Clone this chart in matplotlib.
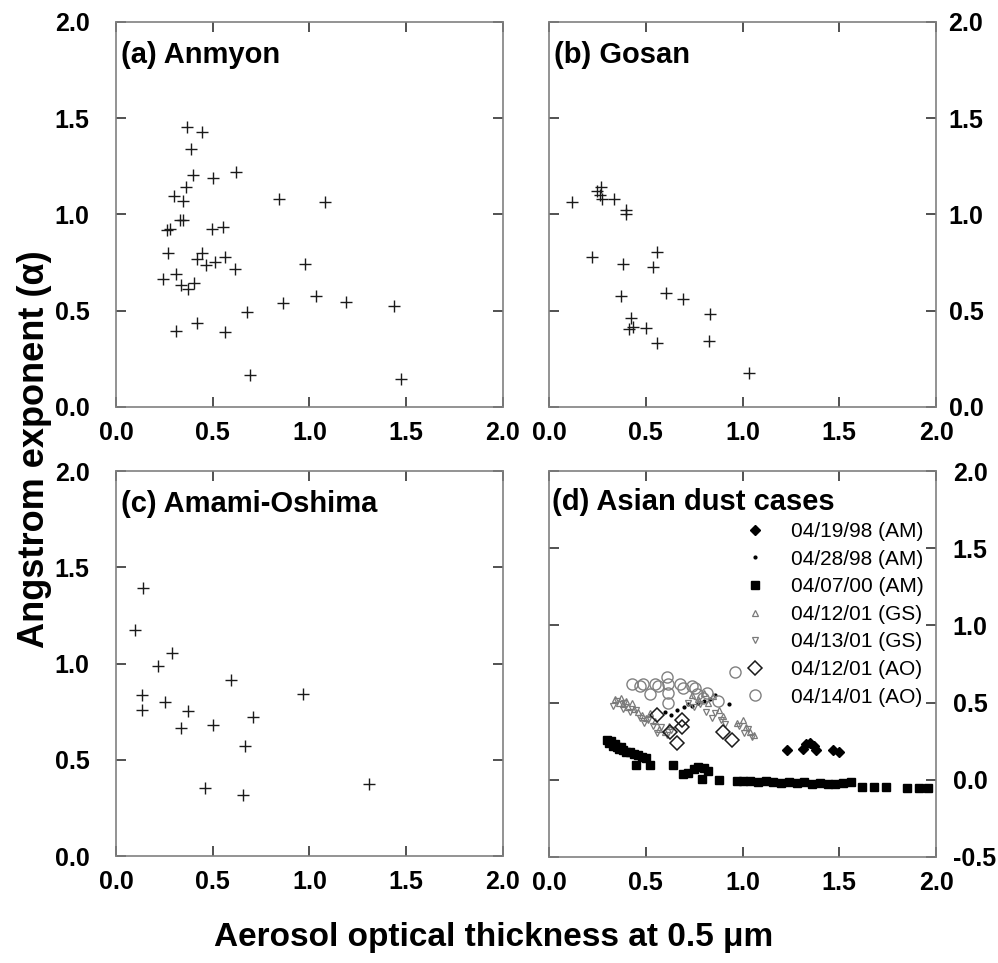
import matplotlib
matplotlib.use('Agg')
import matplotlib.pyplot as plt

plt.rcParams['font.family'] = ['Liberation Sans', 'DejaVu Sans']
plt.rcParams['axes.unicode_minus'] = False

# (a) Anmyon
aot_a = [0.368, 0.444, 0.386, 0.396, 0.499, 0.620, 0.360, 0.298, 0.346, 0.840,
         1.079, 0.330, 0.348, 0.263, 0.277, 0.497, 0.552, 0.267, 0.444, 0.420,
         0.465, 0.513, 0.561, 0.616, 0.979, 0.241, 0.308, 0.337, 0.372, 0.404,
         1.034, 0.862, 1.188, 1.436, 0.678, 0.417, 0.310, 0.566, 0.692, 1.473]
alpha_a = [1.453, 1.430, 1.340, 1.205, 1.190, 1.221, 1.141, 1.094, 1.072, 1.081,
           1.065, 0.973, 0.973, 0.919, 0.923, 0.926, 0.933, 0.802, 0.802, 0.771,
           0.738, 0.755, 0.781, 0.719, 0.743, 0.667, 0.693, 0.634, 0.611, 0.646,
           0.578, 0.539, 0.547, 0.525, 0.494, 0.435, 0.395, 0.391, 0.165, 0.145]

# (b) Gosan
aot_b = [0.269, 0.250, 0.264, 0.274, 0.336, 0.121, 0.397, 0.398, 0.224, 0.560,
         0.381, 0.540, 0.372, 0.607, 0.695, 0.833, 0.424, 0.436, 0.412, 0.500,
         0.560, 0.826, 1.034]
alpha_b = [1.145, 1.120, 1.103, 1.081, 1.081, 1.063, 1.022, 1.000, 0.779, 0.807,
           0.745, 0.726, 0.578, 0.594, 0.561, 0.485, 0.462, 0.417, 0.405, 0.410,
           0.331, 0.343, 0.177]

# (c) Amami-Oshima
aot_c = [0.138, 0.096, 0.291, 0.219, 0.592, 0.134, 0.966, 0.255, 0.134, 0.370,
         0.706, 0.337, 0.503, 0.668, 0.461, 0.659, 1.310]
alpha_c = [1.394, 1.173, 1.052, 0.988, 0.913, 0.839, 0.843, 0.799, 0.759, 0.753,
           0.720, 0.664, 0.682, 0.573, 0.353, 0.315, 0.374]

# (d) Asian dust cases
aot_041998 = [1.23, 1.31, 1.33, 1.35, 1.37, 1.38, 1.47, 1.50]
alpha_041998 = [0.19, 0.20, 0.23, 0.24, 0.22, 0.19, 0.19, 0.18]

aot_042898 = [0.60, 0.63, 0.66, 0.70, 0.72, 0.74, 0.77, 0.80, 0.83, 0.86, 0.93]
alpha_042898 = [0.44, 0.42, 0.45, 0.47, 0.49, 0.48, 0.50, 0.51, 0.52, 0.55, 0.49]

aot_040700 = [0.30, 0.31, 0.32, 0.33, 0.34, 0.35, 0.36, 0.37, 0.38, 0.40, 0.42, 0.44,
              0.46, 0.48, 0.50, 0.45, 0.52, 0.64, 0.69, 0.72, 0.75, 0.77, 0.80, 0.82,
              0.79, 0.88, 0.97, 1.00, 1.04, 1.08, 1.12, 1.16, 1.20, 1.24, 1.28, 1.32,
              1.36, 1.40, 1.44, 1.48, 1.52, 1.56, 1.62, 1.68, 1.74, 1.85, 1.91, 1.96]
alpha_040700 = [0.26, 0.24, 0.25, 0.22, 0.23, 0.21, 0.20, 0.21, 0.19, 0.18, 0.18, 0.17,
                0.16, 0.15, 0.14, 0.095, 0.095, 0.095, 0.04, 0.045, 0.07, 0.08, 0.075, 0.06,
                0.005, 0.0, -0.005, -0.005, -0.01, -0.012, -0.01, -0.015, -0.02, -0.012, -0.02, -0.015,
                -0.025, -0.02, -0.03, -0.028, -0.02, -0.015, -0.05, -0.05, -0.05, -0.055, -0.056, -0.056]

aot_041201_gs = [0.34, 0.36, 0.37, 0.38, 0.40, 0.41, 0.43, 0.44, 0.46, 0.48, 0.50, 0.52, 0.55, 0.57,
                 0.60, 0.62, 0.74, 0.77, 0.80, 0.82, 0.85, 0.88, 0.90, 0.97, 1.00, 1.02, 1.04, 1.06]
alpha_041201_gs = [0.52, 0.50, 0.53, 0.49, 0.51, 0.47, 0.50, 0.46, 0.44, 0.42, 0.40, 0.43, 0.38, 0.33,
                   0.31, 0.35, 0.55, 0.52, 0.56, 0.50, 0.54, 0.45, 0.41, 0.37, 0.39, 0.34, 0.31, 0.29]

aot_041301_gs = [0.33, 0.35, 0.38, 0.39, 0.42, 0.45, 0.47, 0.49, 0.51, 0.54, 0.56, 0.58, 0.61,
                 0.63, 0.72, 0.75, 0.78, 0.81, 0.84, 0.86, 0.89, 0.91, 0.98, 1.01, 1.03, 1.05]
alpha_041301_gs = [0.48, 0.51, 0.46, 0.50, 0.44, 0.45, 0.40, 0.37, 0.39, 0.35, 0.30, 0.34, 0.29,
                   0.32, 0.50, 0.47, 0.49, 0.44, 0.40, 0.43, 0.39, 0.36, 0.35, 0.30, 0.33, 0.28]

aot_041201_ao = [0.56, 0.625, 0.66, 0.686, 0.686, 0.90, 0.946]
alpha_041201_ao = [0.42, 0.31, 0.24, 0.39, 0.34, 0.31, 0.26]

aot_041401_ao = [0.427, 0.470, 0.488, 0.522, 0.548, 0.565, 0.608, 0.617, 0.617, 0.617,
                 0.677, 0.694, 0.737, 0.754, 0.763, 0.798, 0.815, 0.875, 0.961]
alpha_041401_ao = [0.619, 0.608, 0.619, 0.558, 0.619, 0.608, 0.666, 0.619, 0.565, 0.500,
                   0.619, 0.597, 0.608, 0.597, 0.554, 0.532, 0.565, 0.511, 0.700]

ticks_main = [0.0, 0.5, 1.0, 1.5, 2.0]
ticks_d = [-0.5, 0.0, 0.5, 1.0, 1.5, 2.0]


def style_axes(ax, right_labels=False, ypad=19):
    for sp in ax.spines.values():
        sp.set_color('#808080')
        sp.set_linewidth(1.2)
    ax.tick_params(direction='in', length=7, width=1.1, color='#222222',
                   top=True, right=True, labelsize=18, pad=10)
    ax.tick_params(axis='y', pad=ypad,
                   labelleft=not right_labels, labelright=right_labels)
    for lab in ax.get_xticklabels() + ax.get_yticklabels():
        lab.set_fontweight('bold')


fig = plt.figure(figsize=(9.98, 9.63), dpi=100)
ax_a = fig.add_axes([0.1162, 0.5774, 0.3878, 0.3998])
ax_b = fig.add_axes([0.5501, 0.5774, 0.3878, 0.3998])
ax_c = fig.add_axes([0.1162, 0.1111, 0.3878, 0.3998])
ax_d = fig.add_axes([0.5501, 0.1101, 0.3878, 0.4008])

panels = [(ax_a, aot_a, alpha_a, '(a) Anmyon'),
          (ax_b, aot_b, alpha_b, '(b) Gosan'),
          (ax_c, aot_c, alpha_c, '(c) Amami-Oshima')]
for ax, xs, ys, title in panels:
    ax.plot(xs, ys, linestyle='none', marker='+', markersize=9,
            markeredgewidth=1.0, color='#1a1a1a')
    ax.set_xlim(0, 2)
    ax.set_ylim(0, 2)
    ax.set_xticks(ticks_main)
    ax.set_yticks(ticks_main)
    ax.set_xticklabels(['%.1f' % t for t in ticks_main])
    ax.set_yticklabels(['%.1f' % t for t in ticks_main])
    ax.text(0.013, 0.894, title, transform=ax.transAxes, fontsize=21,
            fontweight='bold', va='baseline', ha='left')

style_axes(ax_a)
style_axes(ax_b, right_labels=True, ypad=9)
style_axes(ax_c)

# panel d
ax_d.plot(aot_041998, alpha_041998, linestyle='none', marker='D', markersize=5,
          color='black', label='04/19/98 (AM)')
ax_d.plot(aot_042898, alpha_042898, linestyle='none', marker='o', markersize=2,
          color='black', label='04/28/98 (AM)')
ax_d.plot(aot_040700, alpha_040700, linestyle='none', marker='s', markersize=5.5,
          color='black', label='04/07/00 (AM)')
ax_d.plot(aot_041201_gs, alpha_041201_gs, linestyle='none', marker='^', markersize=5,
          markerfacecolor='none', markeredgecolor='#7a7a7a', markeredgewidth=0.9,
          label='04/12/01 (GS)')
ax_d.plot(aot_041301_gs, alpha_041301_gs, linestyle='none', marker='v', markersize=5,
          markerfacecolor='none', markeredgecolor='#7a7a7a', markeredgewidth=0.9,
          label='04/13/01 (GS)')
ax_d.plot(aot_041201_ao, alpha_041201_ao, linestyle='none', marker='D', markersize=7.5,
          markerfacecolor='none', markeredgecolor='#1a1a1a', markeredgewidth=1.1,
          label='04/12/01 (AO)')
ax_d.plot(aot_041401_ao, alpha_041401_ao, linestyle='none', marker='o', markersize=8,
          markerfacecolor='none', markeredgecolor='#808080', markeredgewidth=1.0,
          label='04/14/01 (AO)')
ax_d.set_xlim(0, 2)
ax_d.set_ylim(-0.5, 2)
ax_d.set_xticks(ticks_main)
ax_d.set_yticks(ticks_d)
ax_d.set_xticklabels(['%.1f' % t for t in ticks_main])
ax_d.set_yticklabels(['%.1f' % t for t in ticks_d])
ax_d.text(0.008, 0.899, '(d) Asian dust cases', transform=ax_d.transAxes,
          fontsize=21, fontweight='bold', va='baseline', ha='left')
style_axes(ax_d, right_labels=True, ypad=12)
ax_d.legend(loc='upper left', bbox_to_anchor=(0.462, 0.906), frameon=False,
            fontsize=15, handlelength=1.2, handletextpad=1.13, labelspacing=0.415,
            borderpad=0.2)

fig.text(0.035, 0.534, u'Angstrom exponent (\u03b1)', rotation=90, fontsize=26,
         fontweight='bold', ha='center', va='center')
fig.text(0.495, 0.026, u'Aerosol optical thickness at 0.5 \u03bcm', fontsize=24,
         fontweight='bold', ha='center', va='center')

fig.savefig('out.png', dpi=100)
